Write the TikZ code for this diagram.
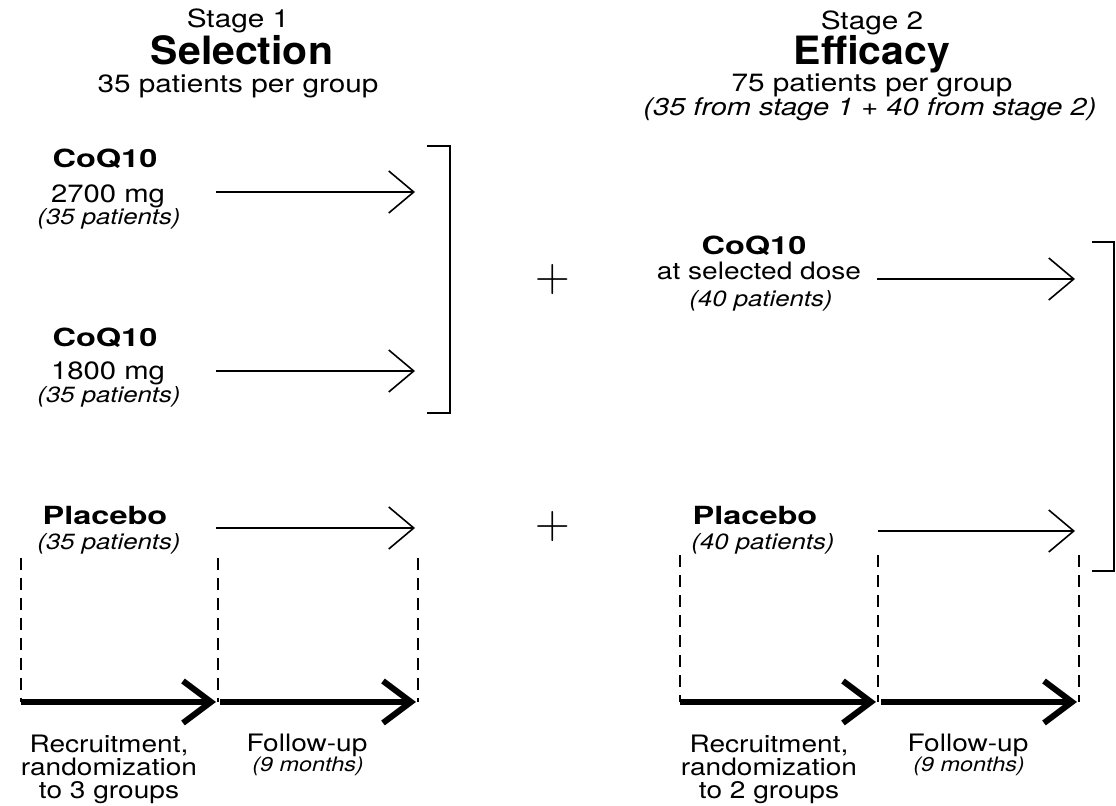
\documentclass[tikz,border=0pt]{standalone}
\usepackage{fontspec}
\usetikzlibrary{arrows.meta}
\newfontfamily\hA{TeX Gyre Heros}[FakeStretch=1.19]
\newfontfamily\hB{TeX Gyre Heros}[FakeStretch=1.05]
\newfontfamily\hC{TeX Gyre Heros}[FakeStretch=1.3]
\newfontfamily\hD{TeX Gyre Heros}[FakeStretch=1.17]
\begin{document}
\begin{tikzpicture}[x=0.5pt,y=-0.5pt,
  txt/.style={inner sep=0pt, anchor=base},
  stagefont/.style={txt, font=\hA\fontsize{12.5}{15}\selectfont},
  titlefont/.style={txt, font=\hB\bfseries\fontsize{19.5}{23}\selectfont},
  subfont/.style={txt, font=\hA\fontsize{12.5}{15}\selectfont},
  subitfont/.style={txt, font=\hA\itshape\fontsize{12.2}{15}\selectfont},
  armfont/.style={txt, font=\hC\bfseries\fontsize{12.5}{15}\selectfont},
  dosefont/.style={txt, font=\hD\fontsize{12.5}{15}\selectfont},
  nfont/.style={txt, font=\hD\itshape\fontsize{11}{13}\selectfont},
  phasefont/.style={inner sep=0pt, anchor=north, align=center, font=\hD\fontsize{12}{11.5}\selectfont},
  follfont/.style={txt, font=\hD\fontsize{12}{14}\selectfont},
  monthfont/.style={txt, font=\hD\itshape\fontsize{10}{12}\selectfont},
  plusfont/.style={inner sep=0pt, font=\fontsize{24}{24}\selectfont},
  thinarrow/.style={line width=0.8pt, line join=miter, -{Straight Barb[length=12.5pt,width=21pt]}},
  thickarrow/.style={line width=3pt, line join=miter, -{Straight Barb[length=14pt,width=21pt]}},
  dashline/.style={line width=1pt, dash pattern=on 6pt off 4pt},
  bracketline/.style={line width=1pt}
]
\useasboundingbox (0,0) rectangle (1116,806);

% ---------- headings ----------
\node[stagefont] (st1) at (238,28) {Stage 1};
\node[titlefont] (sel) at (242,65) {Selection};
\node[subfont] (n1) at (238,93) {35 patients per group};

\node[stagefont] (st2) at (872,30) {Stage 2};
\node[titlefont] (eff) at (872,65) {Efficacy};
\node[subfont] (n2) at (872,92) {75 patients per group};
\node[subitfont] (n2b) at (870,116) {(35 from stage 1 + 40 from stage 2)};

% ---------- stage 1 arms ----------
\node[armfont] (c1) at (105,168) {CoQ10};
\node[dosefont] (d1) at (108,203) {2700 mg};
\node[nfont] (p1) at (109,225) {(35 patients)};

\node[armfont] (c2) at (105,347) {CoQ10};
\node[dosefont] (d2) at (108,380) {1800 mg};
\node[nfont] (p2) at (109,403) {(35 patients)};

\node[armfont] (pl1) at (105,525) {Placebo};
\node[nfont] (pp1) at (109,550) {(35 patients)};

\coordinate (a1s) at (216,192); \coordinate (a1e) at (415,192);
\coordinate (a2s) at (216,371); \coordinate (a2e) at (415,371);
\coordinate (a3s) at (216,528); \coordinate (a3e) at (415,528);
\draw[thinarrow] (a1s) -- (a1e);
\draw[thinarrow] (a2s) -- (a2e);
\draw[thinarrow] (a3s) -- (a3e);

\coordinate (b1a) at (427,146); \coordinate (b1b) at (450,146);
\coordinate (b1c) at (450,413); \coordinate (b1d) at (427,413);
\draw[bracketline] (b1a) -- (b1b) -- (b1c) -- (b1d);

% ---------- plus signs ----------
\node[plusfont] (plus1) at (553,280) {+};
\node[plusfont] (plus2) at (553,527) {+};

% ---------- stage 2 arms ----------
\node[armfont] (c3) at (754,255) {CoQ10};
\node[dosefont, font=\hD\fontsize{12}{14}\selectfont] (d3) at (759,280) {at selected dose};
\node[nfont] (p3) at (761,307) {(40 patients)};

\node[armfont] (pl2) at (755,525) {Placebo};
\node[nfont] (pp2) at (763,550) {(40 patients)};

\coordinate (a4s) at (877,279); \coordinate (a4e) at (1075,279);
\coordinate (a5s) at (878,531); \coordinate (a5e) at (1075,531);
\draw[thinarrow] (a4s) -- (a4e);
\draw[thinarrow] (a5s) -- (a5e);

\coordinate (b2a) at (1092,242); \coordinate (b2b) at (1114,242);
\coordinate (b2c) at (1114,571); \coordinate (b2d) at (1092,571);
\draw[bracketline] (b2a) -- (b2b) -- (b2c) -- (b2d);

% ---------- timelines ----------
\foreach \n/\x/\t in {l1/21/558, l2/218/558, l3/418/558, r1/680/555, r2/878/555, r3/1079/555}{
  \coordinate (\n top) at (\x,\t);
  \coordinate (\n bot) at (\x,702);
  \draw[dashline] (\n top) -- (\n bot);
}

\coordinate (t1s) at (21,702);  \coordinate (t1e) at (216,702);
\coordinate (t2s) at (220,702); \coordinate (t2e) at (416,702);
\coordinate (t3s) at (680,702); \coordinate (t3e) at (876,702);
\coordinate (t4s) at (881,702); \coordinate (t4e) at (1077,702);
\draw[thickarrow] (t1s) -- (t1e);
\draw[thickarrow] (t2s) -- (t2e);
\draw[thickarrow] (t3s) -- (t3e);
\draw[thickarrow] (t4s) -- (t4e);

\node[phasefont] (rec1) at (109,735) {Recruitment,\\randomization\\to 3 groups};
\node[follfont] (fu1) at (307,752) {Follow-up};
\node[monthfont] (m1) at (308,772) {(9 months)};

\node[phasefont] (rec2) at (769,735) {Recruitment,\\randomization\\to 2 groups};
\node[follfont] (fu2) at (968,752) {Follow-up};
\node[monthfont] (m2) at (969,772) {(9 months)};
\end{tikzpicture}
\end{document}
